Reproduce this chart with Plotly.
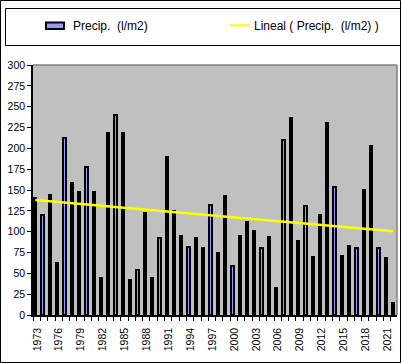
import numpy as np
import plotly.graph_objects as go

years = list(range(1973, 2023))
precip = [140, 120, 144, 62, 213, 158, 148, 178, 148, 44,
          218, 240, 218, 42, 54, 122, 45, 92, 190, 125,
          95, 82, 92, 80, 132, 74, 143, 59, 95, 112,
          101, 81, 94, 32, 210, 236, 89, 131, 70, 120,
          230, 154, 71, 83, 80, 150, 203, 80, 69, 14]
label_years = list(range(1973, 2022, 3))
y_ticks = list(range(0, 301, 25))
series_name = "Precip.\u00a0 (l/m2)"
trend_name = "Lineal ( Precip.\u00a0 (l/m2) )"

W, H = 402, 364
ML, MR, MT, MB = 33, 5, 65, 49
PW, PH = W - ML - MR, H - MT - MB


def px(x):
    return (x - ML) / PW


def py(y):
    return (H - MB - y) / PH


# linear trend (least squares), like the spreadsheet "Lineal" trendline
coef = np.polyfit(years, precip, 1)
trend = np.polyval(coef, years)

FONT = "Liberation Sans, Arial, sans-serif"

fig = go.Figure()
fig.add_trace(go.Bar(
    x=years, y=precip, name=series_name, width=0.31,
    marker=dict(color="#9999FF", line=dict(color="black", width=2)),
    showlegend=False,
))
fig.add_trace(go.Scatter(
    x=years, y=trend, name=trend_name, mode="lines",
    line=dict(color="#FFFF00", width=2.5), showlegend=False,
))

shapes = []
# outer frame
shapes.append(dict(type="rect", xref="paper", yref="paper",
                   x0=px(0.5), x1=px(400.5), y0=py(362.5), y1=py(0.5),
                   line=dict(color="black", width=1), layer="below"))
# legend box
shapes.append(dict(type="rect", xref="paper", yref="paper",
                   x0=px(5.5), x1=px(400.5), y0=py(45.5), y1=py(8.5),
                   line=dict(color="black", width=1)))
# legend symbols
shapes.append(dict(type="rect", xref="paper", yref="paper",
                   x0=px(46), x1=px(64), y0=py(29), y1=py(22.5),
                   fillcolor="#9999FF", line=dict(color="black", width=2)))
shapes.append(dict(type="line", xref="paper", yref="paper",
                   x0=px(230), x1=px(250), y0=py(25.3), y1=py(25.3),
                   line=dict(color="#FFFF00", width=2)))
# plot area grey border (top & right)
shapes.append(dict(type="line", xref="paper", yref="paper",
                   x0=0, x1=1, y0=1, y1=1, line=dict(color="#808080", width=1.5)))
shapes.append(dict(type="line", xref="paper", yref="paper",
                   x0=1, x1=1, y0=0, y1=1, line=dict(color="#808080", width=1.5)))

annotations = [
    dict(text=series_name, xref="paper", yref="paper", x=px(71), y=py(25.5),
         xanchor="left", yanchor="middle", showarrow=False,
         font=dict(family=FONT, size=12, color="black")),
    dict(text=trend_name, xref="paper", yref="paper", x=px(252), y=py(25.5),
         xanchor="left", yanchor="middle", showarrow=False,
         font=dict(family=FONT, size=12, color="black")),
]

fig.update_layout(
    width=W, height=H,
    margin=dict(l=ML, r=MR, t=MT, b=MB, pad=0),
    paper_bgcolor="white", plot_bgcolor="#C0C0C0",
    font=dict(family=FONT, size=10.5, color="black"),
    shapes=shapes, annotations=annotations,
    bargap=0,
)
fig.update_xaxes(
    range=[1972.685, 2022.55], tickmode="array",
    tickvals=[y - 0.3 for y in label_years], ticktext=[str(y) for y in label_years],
    ticks="outside", ticklen=4, tickcolor="black", tickwidth=1,
    tickangle=-90, ticklabelshift=4, ticklabelstandoff=3,
    minor=dict(tickvals=[y - 0.3 for y in years], ticks="outside", ticklen=4,
               tickcolor="black", tickwidth=1),
    showline=True, linecolor="black", linewidth=1.5,
    showgrid=False, zeroline=False, fixedrange=True, automargin=False,
)
fig.update_yaxes(
    range=[0, 300], tickmode="array", tickvals=y_ticks,
    ticks="outside", ticklen=4, tickcolor="black", tickwidth=1,
    showline=True, linecolor="black", linewidth=1.5,
    showgrid=False, zeroline=False, fixedrange=True, automargin=False,
)

fig.write_html(
    "out.html",
    config={"displayModeBar": False},
    post_script="document.body.style.margin='0';document.body.style.overflow='hidden';",
)
